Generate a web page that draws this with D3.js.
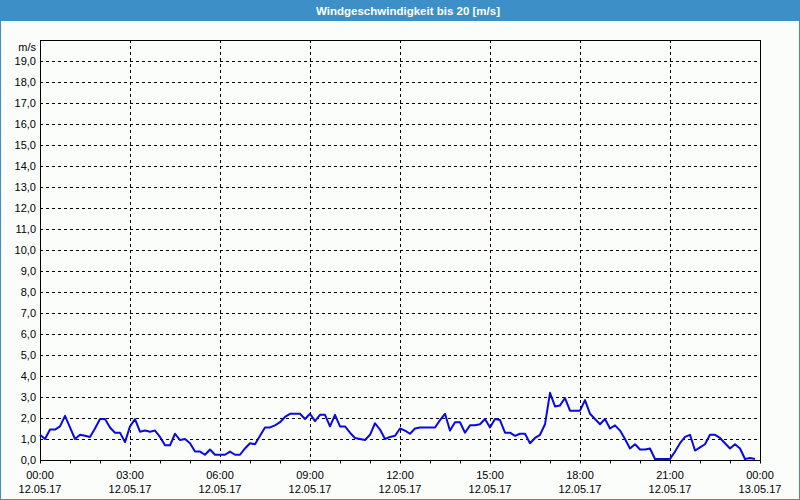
<!DOCTYPE html>
<html><head><meta charset="utf-8">
<script src="https://cdn.jsdelivr.net/npm/d3@7"></script>
<style>html,body{margin:0;padding:0;background:#fff;}svg{display:block;}</style>
</head><body>
<script>
const title = "Windgeschwindigkeit bis 20 [m/s]";
const unitLabel = "m/s";
const startTime = "2017-05-12T00:00:00";
const endTime = "2017-05-13T00:00:00";
const stepMinutes = 10;
const windSpeed = [
1.2,1.0,1.45,1.45,1.6,2.1,1.55,1.0,1.2,1.15,1.1,1.5,1.95,1.95,1.55,1.3,1.3,0.85,1.6,1.95,
1.35,1.4,1.35,1.4,1.1,0.7,0.7,1.25,0.95,1.0,0.8,0.4,0.4,0.25,0.5,0.25,0.25,0.25,0.4,0.25,
0.25,0.55,0.8,0.75,1.15,1.55,1.55,1.65,1.8,2.05,2.2,2.2,2.2,1.95,2.2,1.85,2.15,2.15,1.6,2.15,
1.6,1.6,1.3,1.05,1.0,0.95,1.2,1.75,1.45,1.0,1.1,1.15,1.5,1.4,1.25,1.5,1.55,1.55,1.55,1.55,
1.9,2.2,1.4,1.8,1.8,1.3,1.65,1.65,1.7,1.95,1.55,1.95,1.9,1.3,1.3,1.15,1.25,1.25,0.8,1.05,
1.2,1.7,3.2,2.55,2.6,2.95,2.35,2.35,2.35,2.85,2.2,1.95,1.7,1.95,1.5,1.65,1.4,1.0,0.55,0.75,
0.5,0.5,0.55,0.05,0.05,0.05,0.05,0.4,0.8,1.1,1.2,0.45,0.6,0.75,1.2,1.2,1.05,0.8,0.55,0.75,
0.55,0.05,0.1,0.05
];
const yTicks = d3.range(0, 20, 1);
const xTickTimes = ["00:00","03:00","06:00","09:00","12:00","15:00","18:00","21:00","00:00"];
const xTickDates = ["12.05.17","12.05.17","12.05.17","12.05.17","12.05.17","12.05.17","12.05.17","12.05.17","13.05.17"];

const W = 800, H = 500;
const m = {left: 40, right: 40, top: 40, bottom: 40};
const blue = "#3d8fc7";
const font = "'Liberation Sans', Arial, sans-serif";

const svg = d3.select("body").append("svg").attr("width", W).attr("height", H);
svg.append("rect").attr("x",0).attr("y",0).attr("width",W).attr("height",H).attr("fill","#fbfdfb");
svg.append("rect").attr("x",0.5).attr("y",0.5).attr("width",W-1).attr("height",H-1)
  .attr("fill","none").attr("stroke",blue);
svg.append("rect").attr("x",0).attr("y",0).attr("width",W).attr("height",21).attr("fill",blue);
svg.append("text").attr("x",408).attr("y",15).attr("text-anchor","middle")
  .attr("fill","#fff").attr("font-family",font).attr("font-weight","bold").attr("font-size",11.5)
  .text(title);

const t0 = new Date(startTime), t1 = new Date(endTime);
const x = d3.scaleTime().domain([t0, t1]).range([m.left, W - m.right]);
const y = d3.scaleLinear().domain([0, 20]).range([H - m.bottom, m.top]);

const data = windSpeed.map((v, i) => ({t: new Date(t0.getTime() + i * stepMinutes * 60000), v}));

// grid
const g = svg.append("g");
g.selectAll("line.h").data(yTicks.filter(d => d > 0)).join("line")
  .attr("x1", m.left).attr("x2", W - m.right)
  .attr("y1", d => Math.round(y(d)) + 0.5).attr("y2", d => Math.round(y(d)) + 0.5)
  .attr("stroke", "#000").attr("stroke-dasharray", "3,3");
const hourTicks = d3.timeHour.every(3).range(t0, new Date(t1.getTime() + 1));
g.selectAll("line.v").data(hourTicks.slice(1, -1)).join("line")
  .attr("x1", d => Math.round(x(d)) + 0.5).attr("x2", d => Math.round(x(d)) + 0.5)
  .attr("y1", m.top).attr("y2", H - m.bottom)
  .attr("stroke", "#000").attr("stroke-dasharray", "3,3");

// frame
svg.append("rect").attr("x", m.left + 0.5).attr("y", m.top + 0.5)
  .attr("width", W - m.left - m.right).attr("height", H - m.top - m.bottom)
  .attr("fill", "none").attr("stroke", "#000");

// y axis labels
const yAxis = d3.axisLeft(y).tickValues(yTicks).tickSize(0).tickPadding(4)
  .tickFormat(d => d3.format(".1f")(d).replace(".", ","));
const ya = svg.append("g").attr("transform", `translate(${m.left},0)`).call(yAxis);
ya.select(".domain").remove();
ya.selectAll("text").attr("font-family", font).attr("font-size", 11).attr("fill", "#000");
svg.append("text").attr("x", 36).attr("y", 51).attr("text-anchor","end")
  .attr("font-family", font).attr("font-size", 11).text(unitLabel);

// x axis: hourly ticks, labels every 3h
const xAxis = d3.axisBottom(x).ticks(d3.timeHour.every(1)).tickSize(3).tickFormat("");
const xa = svg.append("g").attr("transform", `translate(0,${H - m.bottom + 0.5})`).call(xAxis);
xa.select(".domain").remove();
xa.selectAll("line").attr("stroke", "#000");
const lbl = svg.append("g");
lbl.selectAll("text.t").data(hourTicks).join("text")
  .attr("x", d => x(d)).attr("y", 479).attr("text-anchor", "middle")
  .attr("font-family", font).attr("font-size", 11).text((d, i) => xTickTimes[i]);
lbl.selectAll("text.d").data(hourTicks).join("text")
  .attr("x", d => x(d)).attr("y", 493).attr("text-anchor", "middle")
  .attr("font-family", font).attr("font-size", 11).text((d, i) => xTickDates[i]);

// line
svg.append("path").datum(data)
  .attr("d", d3.line().x(d => x(d.t)).y(d => y(d.v)))
  .attr("fill", "none").attr("stroke", "#0a0ae0").attr("stroke-width", 2)
  .attr("stroke-linejoin", "round");
</script>
</body></html>
